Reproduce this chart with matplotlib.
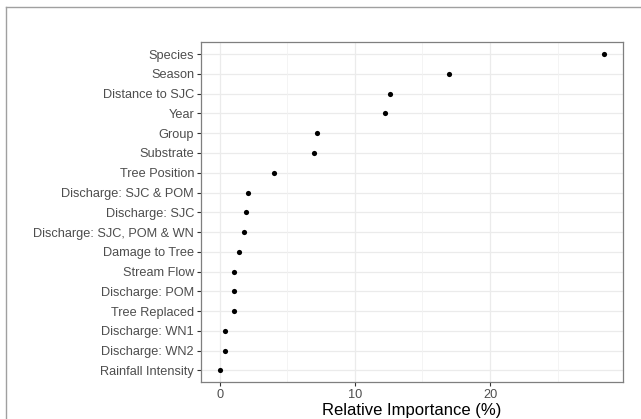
import matplotlib
matplotlib.use("Agg")
import matplotlib.pyplot as plt
from matplotlib.lines import Line2D

plt.rcParams["font.family"] = ["Liberation Sans", "DejaVu Sans"]

# variables, top to bottom
variables = [
    "Species", "Season", "Distance to SJC", "Year", "Group", "Substrate",
    "Tree Position", "Discharge: SJC & POM", "Discharge: SJC",
    "Discharge: SJC, POM & WN", "Damage to Tree", "Stream Flow",
    "Discharge: POM", "Tree Replaced", "Discharge: WN1", "Discharge: WN2",
    "Rainfall Intensity",
]
importance = [
    28.4, 17.0, 12.6, 12.25, 7.17, 6.95,
    4.0, 2.07, 1.92,
    1.78, 1.46, 1.09,
    1.06, 1.06, 0.42, 0.41,
    0.03,
]
x_ticks = [0, 10, 20]

fig = plt.figure(figsize=(6.41, 4.19), dpi=100)
ax = fig.add_axes([201 / 641, 1 - 382.3 / 419, (622.7 - 201) / 641, (382.3 - 42.3) / 419])

n = len(variables)
ypos = list(range(n - 1, -1, -1))

ax.set_facecolor("white")
for y in ypos:
    ax.axhline(y, color="#EBEBEB", lw=0.9, zorder=0)
for x in x_ticks:
    ax.axvline(x, color="#EBEBEB", lw=0.9, zorder=0)
for x in [5, 15, 25]:
    ax.axvline(x, color="#F2F2F2", lw=0.6, zorder=0)

ax.scatter(importance, ypos, s=14, color="black", zorder=3, linewidths=0)

lo, hi = min(importance), max(importance)
pad = 0.05 * (hi - lo)
ax.set_xlim(lo - pad, hi + pad)
ax.set_ylim(-0.6, n - 1 + 0.6)

ax.set_yticks(ypos)
ax.set_yticklabels(variables)
ax.set_xticks(x_ticks)
ax.tick_params(axis="both", colors="#333333", length=3, width=0.8,
               labelcolor="#4D4D4D", labelsize=9.2, pad=2)

for s in ax.spines.values():
    s.set_color("#7F7F7F")
    s.set_linewidth(0.9)

ax.set_xlabel("Relative Importance (%)", fontsize=12, color="black", labelpad=1)

# outer frame lines from the source image
fig.add_artist(Line2D([6 / 641, 1], [1 - 7 / 419, 1 - 7 / 419], transform=fig.transFigure,
                      color="#A0A0A0", lw=1.0))
fig.add_artist(Line2D([6 / 641, 6 / 641], [0, 1 - 7 / 419], transform=fig.transFigure,
                      color="#A0A0A0", lw=1.0))

fig.savefig("out.png", dpi=100, facecolor="white")
